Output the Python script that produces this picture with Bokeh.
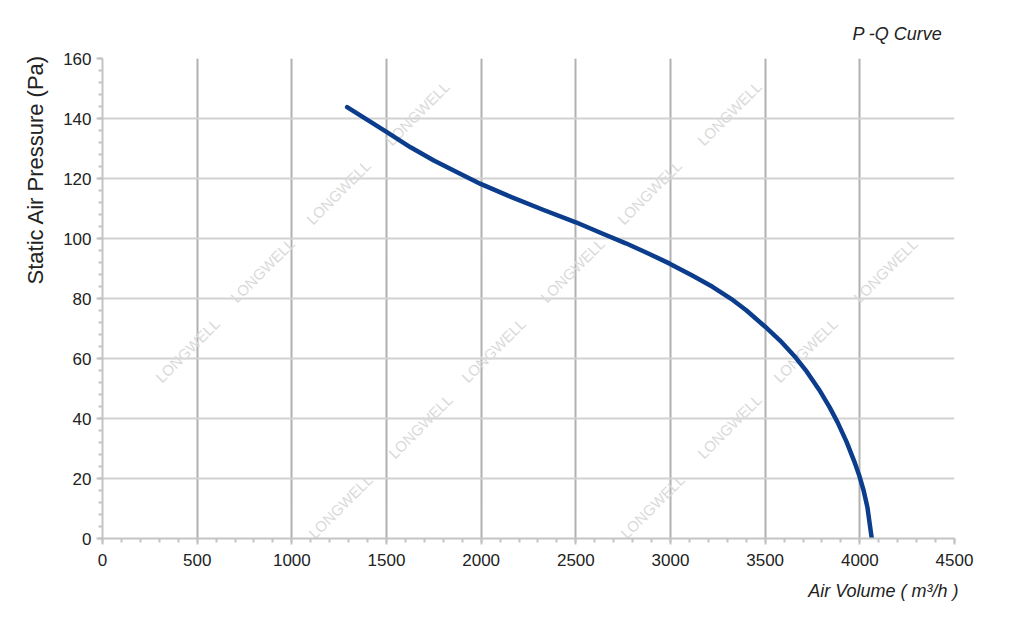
from bokeh.plotting import figure
from bokeh.models import Range1d, SingleIntervalTicker, LabelSet, ColumnDataSource, Title
from bokeh.core.properties import value
from bokeh.embed import file_html
from bokeh.resources import INLINE
import math

# ---- data ----
air_volume = [1292, 1397, 1504, 1627, 1750, 1873, 1997, 2160, 2330, 2500, 2630, 2764,
              2880, 2993, 3110, 3222, 3320, 3400, 3500, 3580, 3660, 3720, 3785, 3840,
              3882, 3930, 3970, 3996, 4020, 4040, 4063]
pressure = [143.8, 139.6, 135.4, 130.4, 126.0, 122.1, 118.2, 113.8, 109.5, 105.4, 101.9, 98.4,
            95.1, 91.7, 87.8, 83.9, 79.9, 76.1, 70.6, 65.9, 60.4, 55.6, 49.6, 43.8,
            38.8, 32.2, 25.8, 21.2, 16.0, 10.4, 0.0]

x_ticks = [0, 500, 1000, 1500, 2000, 2500, 3000, 3500, 4000, 4500]
y_ticks = [0, 20, 40, 60, 80, 100, 120, 140, 160]

title_text = "P -Q Curve"
x_label = "Air Volume ( m\u00b3/h )"
y_label = "Static Air Pressure  (Pa)"
watermark = "LONGWELL"

# ---- layout ----
W, H = 1008, 610
FL, FR, FT, FB = 102, 954, 58, 538   # frame edges in figure pixels
XMIN, XMAX, YMIN, YMAX = 0, 4500, 0, 160

def px_to_data(px, py):
    x = XMIN + (px - FL) / (FR - FL) * (XMAX - XMIN)
    y = YMIN + (FB - py) / (FB - FT) * (YMAX - YMIN)
    return x, y

p = figure(width=W, height=H, output_backend="svg", toolbar_location=None,
           x_range=Range1d(XMIN, XMAX), y_range=Range1d(YMIN, YMAX),
           min_border_left=FL, min_border_right=W - FR,
           min_border_top=FT, min_border_bottom=H - FB,
           title=title_text)
p.outline_line_color = None
p.background_fill_color = "white"
p.border_fill_color = "white"

# title (top right, italic)
p.title.align = "right"
p.title.offset = 12
p.title.standoff = 29
p.title.text_font = "Liberation Sans"
p.title.text_font_size = "18px"
p.title.text_font_style = "italic"
p.title.text_color = "#222222"

# axis labels as titles, to match placement
xt = Title(text=x_label, align="right", offset=-4, standoff=20,
           text_font="Liberation Sans", text_font_style="italic",
           text_font_size="18px", text_color="#222222")
p.add_layout(xt, "below")
yt = Title(text=y_label, align="right", offset=-10, standoff=25,
           text_font="Liberation Sans", text_font_style="normal",
           text_font_size="22px", text_color="#222222")
p.add_layout(yt, "left")

# ticks
p.xaxis.ticker = SingleIntervalTicker(interval=500, num_minor_ticks=5)
p.yaxis.ticker = SingleIntervalTicker(interval=20, num_minor_ticks=5)
for ax in (p.xaxis[0], p.yaxis[0]):
    ax.axis_line_color = "#c4c4c4"
    ax.axis_line_width = 2
    ax.major_tick_line_color = "#c4c4c4"
    ax.major_tick_line_width = 2
    ax.minor_tick_line_color = "#c4c4c4"
    ax.minor_tick_line_width = 2
    ax.major_tick_out = 6
    ax.major_tick_in = 0
    ax.minor_tick_out = 4
    ax.minor_tick_in = 0
    ax.major_label_text_font = "Liberation Sans"
    ax.major_label_text_font_size = "17px"
    ax.major_label_text_color = "#222222"
p.xaxis.major_label_standoff = 9
p.yaxis.major_label_standoff = 5

# grid
p.xgrid.grid_line_color = "#b0b0b0"
p.xgrid.grid_line_width = 2
p.ygrid.grid_line_color = "#d2d2d2"
p.ygrid.grid_line_width = 2

# watermarks (decoration only; those that would be cut by the frame are left out)
wm_rows = [
    (113, [417, 729]),
    (192, [338, 649]),
    (270, [262, 572, 885]),
    (350, [187, 493, 805]),
    (426, [420, 729]),
    (506, [340, 652]),
]
wx, wy = [], []
for py, xs in wm_rows:
    for px in xs:
        dx, dy = px_to_data(px, py)
        wx.append(dx)
        wy.append(dy)
wm_src = ColumnDataSource(dict(x=wx, y=wy, t=[watermark] * len(wx)))
p.add_layout(LabelSet(x="x", y="y", text="t", source=wm_src, angle=math.pi / 4,
                      text_align="center", text_baseline="middle",
                      text_font=value("Liberation Sans"), text_font_size=value("15px"),
                      text_color="#dadada", level="underlay"))

# curve
p.line(air_volume, pressure, line_color="#0b3d8c", line_width=4.5,
       line_cap="round", line_join="round")

open("out.html", "w").write(file_html(p, INLINE))
